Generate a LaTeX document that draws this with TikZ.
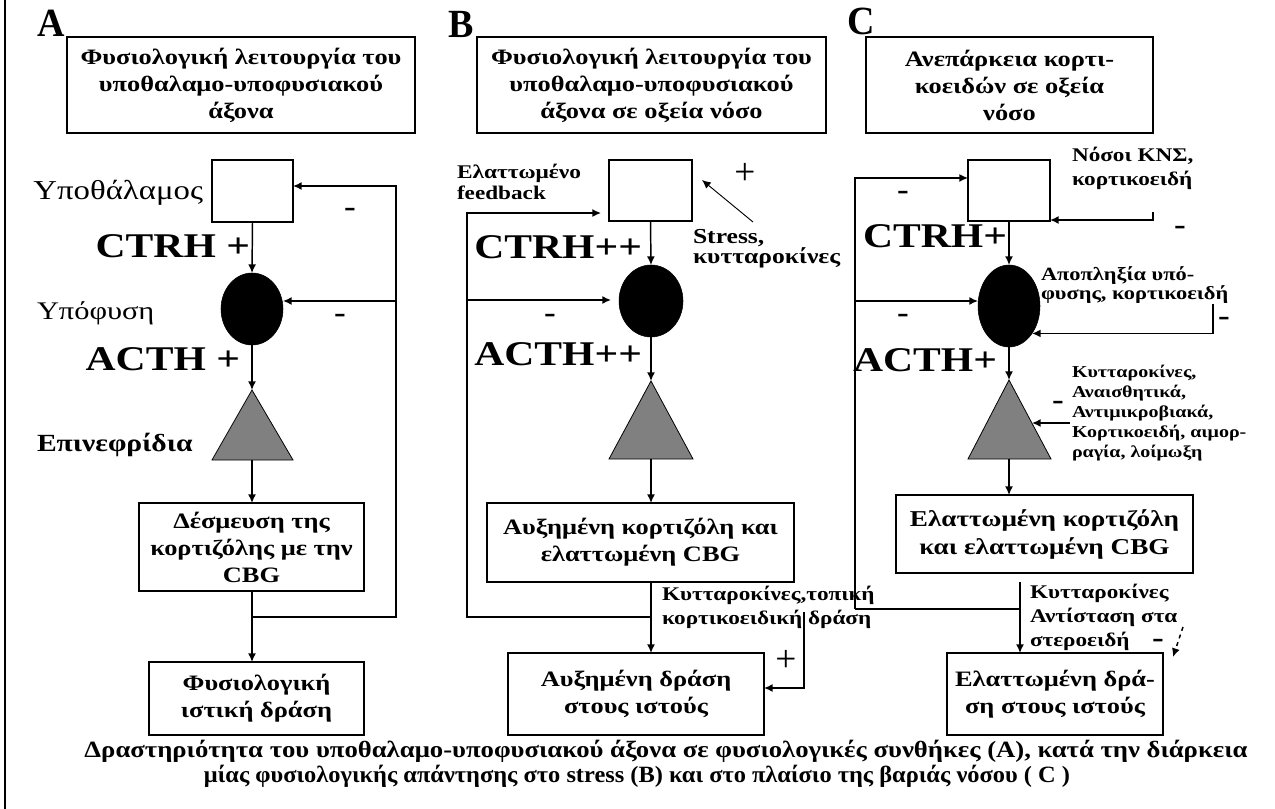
\documentclass[tikz,border=0pt]{standalone}
\usepackage{fontspec}
\setmainfont{Liberation Serif}[FakeStretch=1.2]
\newfontfamily\panelfont{Liberation Serif}[FakeStretch=0.95]
\newfontfamily\plainserif{Liberation Serif}
\usepackage{graphicx}
\usetikzlibrary{arrows.meta,shapes.geometric}
\newdimen\pxu
\pxu=0.75pt
\newcommand\fitw[2]{\resizebox{#1\pxu}{\height}{#2}}
\begin{document}
\begin{tikzpicture}[x=0.75pt,y=-0.75pt,
  every node/.style={inner sep=0pt, outer sep=0pt},
  box/.style={draw=black, line width=1.3pt, align=center, font=\bfseries\fontsize{16.5}{20.25}\selectfont},
  bx/.style 2 args={minimum width=#1*0.75pt, minimum height=#2*0.75pt},
  hyp/.style={draw=black, line width=1.3pt, fill=white},
  pit/.style={ellipse, fill=black, draw=black},
  adr/.style={fill=black!50, draw=black, line width=0.6pt},
  conn/.style={line width=1.1pt},
  arr/.style={conn, -{Latex[length=6.5pt,width=6pt]}},
  panel/.style={font=\panelfont\bfseries\fontsize{30}{30}\selectfont},
  organ/.style={font=\fontsize{20.5}{20.5}\selectfont},
  hormone/.style={font=\bfseries\fontsize{26}{26}\selectfont},
  note/.style={font=\bfseries\fontsize{14.5}{18}\selectfont, align=left},
  smallnote/.style={font=\bfseries\fontsize{12.5}{15}\selectfont, align=left},
  sign/.style={font=\bfseries\fontsize{22}{22}\selectfont},
  bigsign/.style={font=\plainserif\fontsize{28}{28}\selectfont},
  caption/.style={font=\plainserif\bfseries\fontsize{17.5}{17.5}\selectfont}
]
\useasboundingbox (0,0) rectangle (1275,809);
\draw[line width=1.3pt] (5,0) -- (5,809);

% ---------------- A
\node[panel, anchor=base west] (lA) at (37,37) {A};
\node[box,bx={348}{96}] (tA) at (241,85) {Φυσιολογική λειτουργία του\\υποθαλαμο-υποφυσιακού\\άξονα};
\node[hyp,bx={81}{62}] (hA) at (252.5,191) {};
\node[organ, anchor=base east] (nA) at (203,200) {Υποθάλαμος};
\node[pit,bx={62}{72}] (eA) at (252,309) {};
\node[hormone, anchor=base east] (cA) at (250,258) {CTRH +};
\node[organ, font=\fontsize{19}{19}\selectfont, anchor=base west] (yA) at (37,320) {Υπόφυση};
\node[hormone, anchor=base east] (aA) at (240,371) {ACTH +};
\fill[adr] (212,460) -- (252,390) -- (293,460) -- cycle;
\coordinate (trA) at (252,390);
\coordinate (tbA) at (252,460);
\node[font=\bfseries\fontsize{18.5}{18.5}\selectfont, anchor=base west] (epA) at (37,451) {Επινεφρίδια};
\node[box,bx={225}{88}] (dA) at (251.5,547) {Δέσμευση της\\κορτιζόλης με την\\CBG};
\node[box,bx={215}{73}] (fA) at (256.5,698.5) {Φυσιολογική\\ιστική δράση};
\coordinate (jA) at (252,617);
\coordinate (rA) at (396,617);
\coordinate (kA) at (396,301);
\draw[arr] (hA.south) -- (eA.north);
\draw[arr] (eA.south) -- (trA);
\draw[arr] (tbA) -- (tbA |- dA.north);
\draw[conn] (tbA |- dA.south) -- (jA);
\draw[arr] (jA) -- (jA |- fA.north);
\draw[arr] (jA) -- (rA) |- ([yshift=3.75pt]hA.east);
\draw[arr] (kA) -- (kA -| eA.east);
\node[sign] (mA1) at (350,212) {-};
\node[sign] (mA2) at (340,318) {-};

% ---------------- B
\node[panel, anchor=base west] (lB) at (448,38) {B};
\node[box,bx={349}{96}] (tB) at (651.5,85) {Φυσιολογική λειτουργία του\\υποθαλαμο-υποφυσιακού\\άξονα σε οξεία νόσο};
\node[hyp,bx={83}{61}] (hB) at (650.5,190.5) {};
\node[pit,bx={64}{72}] (eB) at (651,301) {};
\fill[adr] (609,459) -- (651,381) -- (693,459) -- cycle;
\coordinate (trB) at (651,381);
\coordinate (tbB) at (651,459);
\node[box,bx={307}{79}] (bB) at (640.5,542.5) {Αυξημένη κορτιζόλη και\\ελαττωμένη CBG};
\node[box,bx={256}{82}] (cB) at (636,694) {Αυξημένη δράση\\στους ιστούς};
\node[hormone, anchor=base east] (crB) at (642,259) {CTRH++};
\node[hormone, anchor=base east] (acB) at (642,366) {ACTH++};
\node[note, font=\bfseries\fontsize{14.5}{15.5}\selectfont, anchor=north west] (fbB) at (457,164) {\fitw{124}{Ελαττωμένο}\\feedback};
\node[bigsign] (pB1) at (745,174) {+};
\coordinate (sB) at (753,222);
\coordinate (sBt) at (702,180);
\draw[arr, line width=0.7pt] (sB) -- (sBt);
\node[note, font=\bfseries\fontsize{16}{14}\selectfont, anchor=north west] (stB) at (693,229) {Stress,\\κυτταροκίνες};
\coordinate (jB) at (651,617);
\coordinate (lB2) at (467,617);
\coordinate (kB) at (467,300);
\draw[arr, shorten >=6pt] (jB) -- (lB2) |- ([yshift=-16.9pt]hB.west);
\draw[arr, shorten >=6pt] (kB) -- (kB -| eB.west);
\draw[arr] (hB.south) -- (eB.north);
\draw[arr] (eB.south) -- (trB);
\draw[arr] (tbB) -- (tbB |- bB.north);
\draw[conn] (tbB |- bB.south) -- (jB);
\draw[arr] (jB) -- (jB |- cB.north);
\node[note, anchor=north west] (ktB) at (662,586) {Κυτταροκίνες,τοπική\\κορτικοειδική δράση};
\coordinate (pB) at (804,612);
\coordinate (pB2) at (804,688);
\draw[arr] (pB) -- (pB2) -- (pB2 -| cB.east);
\node[sign] (mB1) at (550,318) {-};
\node[bigsign] (pB3) at (786,661) {+};

% ---------------- C
\node[panel, anchor=base west] (lC) at (847,35) {C};
\node[box,bx={287}{96}] (tC) at (1009.5,85) {Ανεπάρκεια κορτι-\\κοειδών σε οξεία\\νόσο};
\node[hyp,bx={82}{61}] (hC) at (1009,190.5) {};
\node[pit,bx={62}{82}] (eC) at (1009,306) {};
\fill[adr] (968,459) -- (1009,380) -- (1051,459) -- cycle;
\coordinate (trC) at (1009,380);
\coordinate (tbC) at (1009,459);
\coordinate (rtC) at (1032,423);
\node[box,bx={297}{78}, font=\bfseries\fontsize{17}{21}\selectfont] (bC) at (1044.5,534) {Ελαττωμένη κορτιζόλη\\και ελαττωμένη CBG};
\node[box,bx={216}{82}] (cC) at (1055,694) {Ελαττωμένη δρά-\\ση στους ιστούς};
\node[hormone, anchor=base east] (crC) at (1007,248) {CTRH+};
\node[hormone, anchor=base east] (acC) at (997,372) {ACTH+};
\node[note, anchor=north west] (nsC) at (1072,147) {Νόσοι ΚΝΣ,\\κορτικοειδή};
\coordinate (nC) at (1153,212);
\draw[arr] (nC) |- ([yshift=0.75pt]hC.south east);
\node[note, font=\bfseries\fontsize{14}{14}\selectfont, anchor=north west] (apC) at (1041,267) {Αποπληξία υπό-\\φυσης, κορτικοειδή};
\coordinate (qC) at (1213,304);
\draw[arr] (qC) |- (eC.-50);
\coordinate (jC) at (1020,609);
\coordinate (lC2) at (855,609);
\coordinate (kC) at (855,301);
\draw[conn] (jC) -- (lC2);
\draw[arr] (lC2) |- ([yshift=9.4pt]hC.west);
\draw[arr] (kC) -- (kC -| eC.west);
\draw[arr] (hC.south) -- (eC.north);
\draw[arr] (eC.south) -- (trC);
\draw[arr] (tbC) -- (tbC |- bC.north);
\coordinate (c0) at (1020,582);
\draw[arr] (c0) -- (c0 |- cC.north);
\node[smallnote, anchor=north west] (ciC) at (1072,365) {Κυτταροκίνες,\\Αναισθητικά,\\Αντιμικροβιακά,\\Κορτικοειδή, αιμορ-\\ραγία, λοίμωξη};
\coordinate (ciA) at (1070,423);
\draw[arr] (ciA) -- (rtC);
\node[note, anchor=north west] (krC) at (1030,584) {Κυτταροκίνες\\Αντίσταση στα\\στεροειδή};
\coordinate (dC1) at (1183,627);
\coordinate (dC2) at (1173,657);
\draw[arr, dashed] (dC1) -- (dC2);
\node[sign] (mC1) at (903,195) {-};
\node[sign] (mC2) at (903,318) {-};
\node[sign] (mC3) at (1180,230) {-};
\node[sign] (mC4) at (1224,321) {-};
\node[sign] (mC5) at (1058,405) {-};
\node[sign] (mC6) at (1158,643) {-};

% ---------------- caption
\node[caption, anchor=base] (cap1) at (666,757) {\fitw{1163}{Δραστηριότητα του υποθαλαμο-υποφυσιακού άξονα σε φυσιολογικές συνθήκες (A), κατά την διάρκεια}};
\node[caption, anchor=base] (cap2) at (637,782) {\fitw{866}{μίας φυσιολογικής απάντησης στο stress (B) και στο πλαίσιο της βαριάς νόσου ( C )}};
\end{tikzpicture}
\end{document}
